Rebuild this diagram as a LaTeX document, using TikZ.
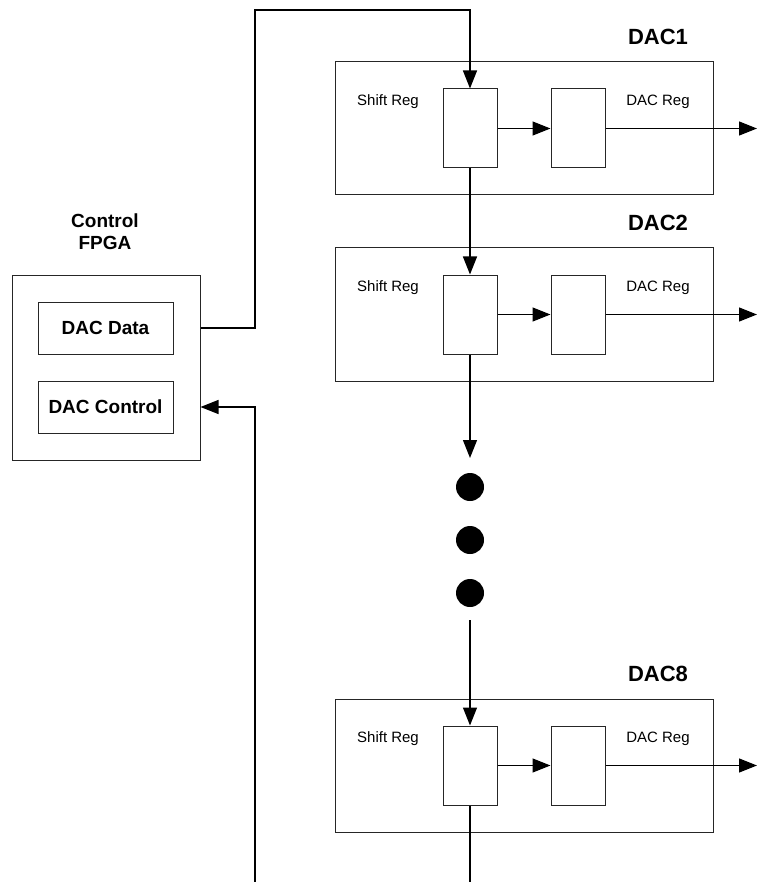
\documentclass[tikz,border=0pt]{standalone}
\usepackage{fontspec}
\setmainfont{Liberation Sans}
\usetikzlibrary{arrows.meta,calc}

\begin{document}
\begin{tikzpicture}[x=1pt,y=-1pt,>={Triangle[length=18pt,width=14pt]},
  box/.style={draw=black!85,line width=1pt,inner sep=0pt},
  regbox/.style={box,minimum width=54pt,minimum height=79pt},
  wire/.style={line width=1.3pt},
  title/.style={font=\fontsize{22}{26}\selectfont\bfseries},
  biglbl/.style={font=\fontsize{19}{22}\selectfont\bfseries,align=center},
  small/.style={font=\fontsize{15}{18}\selectfont},
  dot/.style={circle,fill=black,inner sep=0pt,minimum size=28pt}]
\useasboundingbox (0,0) rectangle (757,882);

% control fpga
\node[box,minimum width=188pt,minimum height=185pt] (fpga) at (106,367.5) {};
\node[biglbl] (fpgalbl) at (105,232) {Control\\FPGA};
\node[box,biglbl,minimum width=135pt,minimum height=52pt] (data) at (105.5,328) {DAC Data};
\node[box,biglbl,minimum width=135pt,minimum height=52pt] (ctrl) at (105.5,407) {DAC Control};

% dac units
\foreach \n/\y in {1/128.5,2/314.5,8/765.5}{
  \node[box,minimum width=378pt,minimum height=133pt] (dac\n) at (524,\y) {};
  \node[title] (title\n) at (658,\y-91.5) {DAC\n};
  \node[regbox] (sr\n) at (470,\y) {};
  \node[regbox] (dr\n) at (578,\y) {};
  \node[small] (srlbl\n) at (388,\y-26.5) {Shift Reg};
  \node[small] (drlbl\n) at (658,\y-26.5) {DAC Reg};
  \coordinate (out\n) at (757,\y);
  \draw[wire,->] (sr\n) -- (dr\n);
  \draw[wire,->] (dr\n) -- (out\n);
}

% dots between dac2 and dac8
\foreach \k/\y in {1/487,2/540,3/593}
  \node[dot] (dot\k) at (470,\y) {};
\coordinate (gapA) at (470,458);
\coordinate (gapB) at (470,620);

% serial chain
\coordinate (top) at (470,10);
\draw[wire,->] (fpga.east |- data) -| (255,10) -- (top) -- (sr1);
\draw[wire,->] (sr1) -- (sr2);
\draw[wire,->] (sr2) -- (gapA);
\draw[wire,->] (gapB) -- (sr8);
\draw[wire] (sr8) -- (470,882);

% control return
\coordinate (ret) at (255,882);
\draw[wire,->] (ret) |- (fpga.east |- ctrl);
\end{tikzpicture}
\end{document}
